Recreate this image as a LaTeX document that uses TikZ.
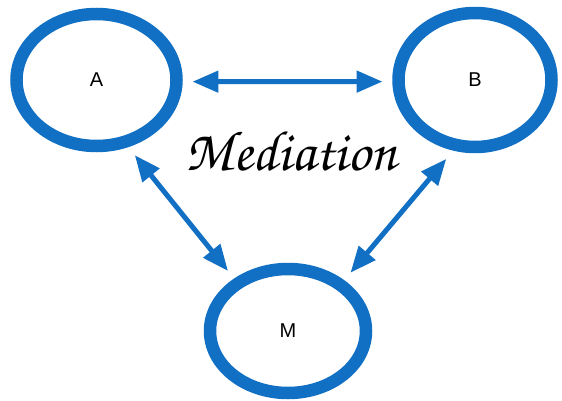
\documentclass[tikz,border=0pt]{standalone}
\usepackage[T1,TU]{fontenc}
\usepackage{fontspec}
\newfontfamily\labelfont{Liberation Sans}
\usetikzlibrary{arrows.meta,shapes.geometric,positioning}
\definecolor{linkColor}{RGB}{18,112,196}
\tikzset{party/.style={ellipse, draw=linkColor, line width=12.5pt, align=center, inner sep=0pt, outer sep=16pt, font=\labelfont\fontsize{20}{20}\selectfont}}
\tikzset{link/.style={draw=linkColor, line width=5pt, {Triangle[length=26pt,width=21pt]}-{Triangle[length=26pt,width=21pt]}}}

\begin{document}
\begin{tikzpicture}[x=1pt, y=-1pt]
\useasboundingbox (0,0) rectangle (562,401);
% Nodes
\node (a) [party, minimum width=160pt, minimum height=132pt] at (96.5,80) {A};
\node (b) [party, minimum width=153pt, minimum height=134pt] at (475,80) {B};
\node (m) [party, minimum width=156pt, minimum height=124pt] at (288,331) {M};

\node (mediation) at (291,151) {\fontencoding{T1}\fontfamily{pzc}\fontseries{mb}\fontshape{it}\fontsize{57}{57}\selectfont Mediation};

% Connectors
\draw [link] (a.-1) -- (b.-179);
\draw [link] (a.-63) -- (m.135);
\draw [link] (b.-110) -- (m.43);

\end{tikzpicture}
\end{document}
